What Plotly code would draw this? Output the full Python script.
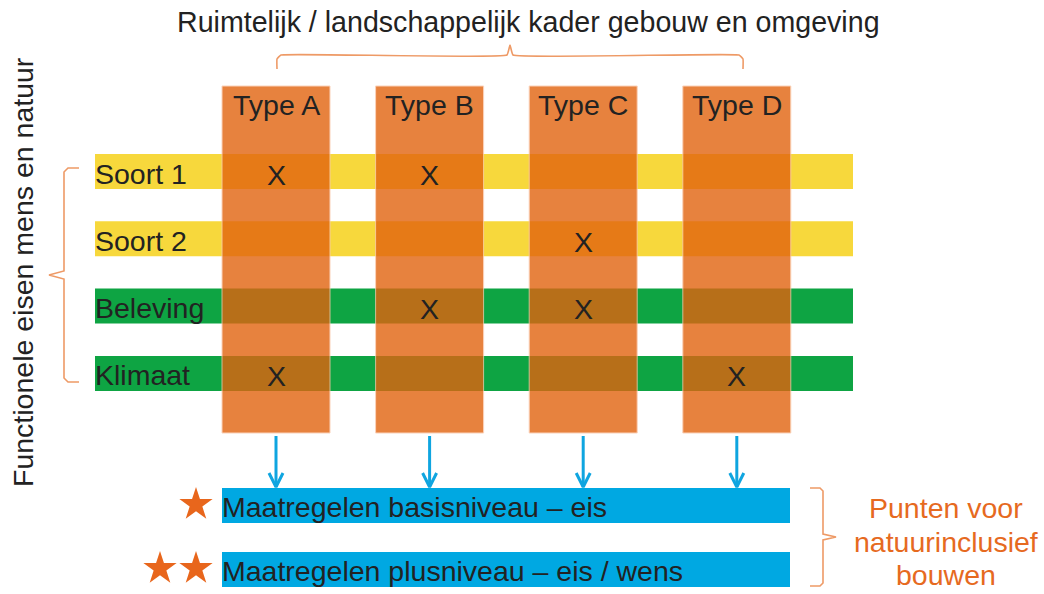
import plotly.graph_objects as go

# ---------------- data ----------------
types = ["Type A", "Type B", "Type C", "Type D"]
rows = ["Soort 1", "Soort 2", "Beleving", "Klimaat"]
# X marks: rows x types
marks = [
    [1, 1, 0, 0],
    [0, 0, 1, 0],
    [0, 1, 1, 0],
    [1, 0, 0, 1],
]
measures = ["Maatregelen basisniveau – eis", "Maatregelen plusniveau – eis / wens"]
measure_stars = [1, 2]
title_text = "Ruimtelijk / landschappelijk kader gebouw en omgeving"
left_text = "Functionele eisen mens en natuur"
right_text = ["Punten voor", "natuurinclusief", "bouwen"]

# ---------------- styles / layout constants ----------------
FONT = "Liberation Sans, Arial, sans-serif"
TXT = "#222222"
ROW_COLORS = ["#F7D83C", "#F7D83C", "#0EA443", "#0EA443"]
COL_COLOR = "rgb(226,99,15)"
BLUE = "#00A8E2"
ARROW = "#0FA5E0"
BRACE = "#EE9A66"
ORANGE_TXT = "#E66A1F"
STAR = "#E8661C"

W, H = 1044, 594
COL_X0, COL_STEP, COL_W = 222, 153.6, 108
COL_TOP, COL_BOT = 86, 433
ROW_Y0, ROW_STEP, ROW_H = 154, 67.3, 35
ROW_X0, ROW_X1 = 95, 853
MEAS_Y0, MEAS_STEP, MEAS_H = 488, 64, 35
MEAS_X0, MEAS_X1 = 222, 790
FS = 28.5
TXT_PAD = 2  # annotation inner padding compensation

fig = go.Figure()
shapes = []
ann = []

# rows
for i, r in enumerate(rows):
    y0 = ROW_Y0 + i * ROW_STEP
    shapes.append(dict(type="rect", xref="x", yref="y", x0=ROW_X0, x1=ROW_X1, y0=y0, y1=y0 + ROW_H,
                       fillcolor=ROW_COLORS[i], line=dict(width=0), layer="below"))
    ann.append(dict(x=ROW_X0 - TXT_PAD, y=y0 + ROW_H / 2 + 2, text=r, xanchor="left", yanchor="middle",
                    showarrow=False, font=dict(family=FONT, size=FS, color=TXT)))

# columns
for j, t in enumerate(types):
    x0 = COL_X0 + j * COL_STEP
    shapes.append(dict(type="rect", xref="x", yref="y", x0=x0, x1=x0 + COL_W, y0=COL_TOP, y1=COL_BOT,
                       fillcolor=COL_COLOR, opacity=0.8, line=dict(width=1, color="rgba(250,200,170,1)"),
                       layer="above"))
    ann.append(dict(x=x0 + COL_W / 2, y=COL_TOP + 19, text=t, xanchor="center", yanchor="middle",
                    showarrow=False, font=dict(family=FONT, size=FS, color=TXT)))

# X marks
for i, r in enumerate(rows):
    for j, t in enumerate(types):
        if marks[i][j]:
            ann.append(dict(x=COL_X0 + j * COL_STEP + COL_W / 2, y=ROW_Y0 + i * ROW_STEP + ROW_H / 2 + 3,
                            text="X", xanchor="center", yanchor="middle", showarrow=False,
                            font=dict(family=FONT, size=FS, color=TXT)))

# arrows
for j, t in enumerate(types):
    cx = COL_X0 + j * COL_STEP + COL_W / 2
    ya, yb = COL_BOT + 3, MEAS_Y0 - 1
    fig.add_trace(go.Scatter(x=[cx, cx, None, cx - 7, cx, cx + 7], y=[ya, yb, None, yb - 14, yb, yb - 14],
                             mode="lines", line=dict(color=ARROW, width=3), hoverinfo="skip",
                             showlegend=False))

# measures
for k, m in enumerate(measures):
    y0 = MEAS_Y0 + k * MEAS_STEP
    shapes.append(dict(type="rect", xref="x", yref="y", x0=MEAS_X0, x1=MEAS_X1, y0=y0, y1=y0 + MEAS_H,
                       fillcolor=BLUE, line=dict(width=0), layer="below"))
    ann.append(dict(x=MEAS_X0 - TXT_PAD, y=y0 + MEAS_H / 2 + 1, text=m, xanchor="left", yanchor="middle",
                    showarrow=False, font=dict(family=FONT, size=FS, color=TXT)))
    n = measure_stars[k]
    sx = [MEAS_X0 - 26 - 36 * s for s in range(n)]
    fig.add_trace(go.Scatter(x=sx, y=[y0 + MEAS_H / 2 - 1] * n, mode="markers",
                             marker=dict(symbol="star", size=25, color=STAR, line=dict(width=0)),
                             hoverinfo="skip", showlegend=False))

# title and brace
ann.append(dict(x=528, y=22, text=title_text, xanchor="center", yanchor="middle", showarrow=False,
                font=dict(family=FONT, size=28.6, color=TXT)))
bx0, bx1, by, bt = 277, 743, 55, 69
bm = (bx0 + bx1) / 2
fig.add_trace(go.Scatter(
    x=[bx0, bx0, bx0 + 4, bm - 3, bm, bm + 3, bx1 - 4, bx1, bx1],
    y=[bt, by + 4, by, by, by - 10, by, by, by + 4, bt],
    mode="lines", line=dict(color=BRACE, width=1.6, shape="spline", smoothing=0.3),
    hoverinfo="skip", showlegend=False))

# left brace + vertical text
ly0, ly1, lx = 168, 382, 64
lm = (ly0 + ly1) / 2
fig.add_trace(go.Scatter(
    x=[lx + 15, lx + 4, lx, lx, lx - 15, lx, lx, lx + 4, lx + 15],
    y=[ly0, ly0, ly0 + 4, lm - 4, lm, lm + 4, ly1 - 4, ly1, ly1],
    mode="lines", line=dict(color=BRACE, width=1.6), hoverinfo="skip", showlegend=False))
ann.append(dict(x=23, y=272, text=left_text, textangle=-90, xanchor="center", yanchor="middle",
                showarrow=False, font=dict(family=FONT, size=28.5, color=TXT)))

# right brace + text
ry0, ry1, rx = 488, 586, 823
rm = (ry0 + ry1) / 2
fig.add_trace(go.Scatter(
    x=[rx - 13, rx - 3, rx, rx, rx + 13, rx, rx, rx - 3, rx - 13],
    y=[ry0, ry0, ry0 + 3, rm - 3, rm, rm + 3, ry1 - 3, ry1, ry1],
    mode="lines", line=dict(color=BRACE, width=1.6), hoverinfo="skip", showlegend=False))
for k, line in enumerate(right_text):
    ann.append(dict(x=946, y=508 + k * 33.5, text=line, xanchor="center", yanchor="middle",
                    showarrow=False, font=dict(family=FONT, size=FS, color=ORANGE_TXT)))

fig.update_layout(
    width=W, height=H, margin=dict(l=0, r=0, t=0, b=0),
    paper_bgcolor="white", plot_bgcolor="white",
    xaxis=dict(range=[0, W], visible=False, fixedrange=True),
    yaxis=dict(range=[H, 0], visible=False, fixedrange=True),
    shapes=shapes, annotations=ann, showlegend=False,
)
fig.write_html(
    "out.html",
    config={"displayModeBar": False},
    post_script="document.body.style.margin='0';document.body.style.overflow='hidden';",
)
